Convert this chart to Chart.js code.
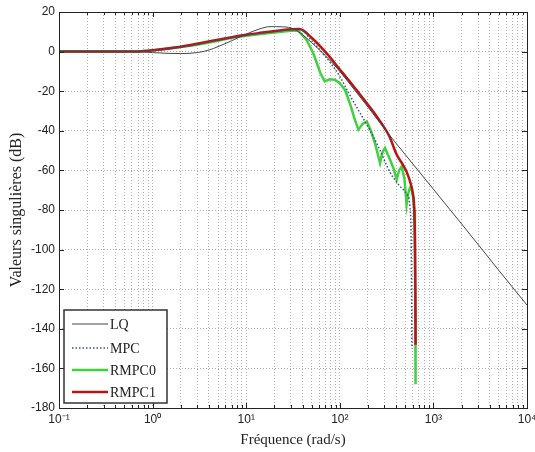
<!DOCTYPE html>
<html>
<head>
<meta charset="utf-8">
<script src="https://cdn.jsdelivr.net/npm/chart.js@4.4.1/dist/chart.umd.min.js"></script>
<style>
  html, body { margin: 0; padding: 0; background: #fff; }
  #wrap { width: 535px; height: 452px; position: relative; overflow: hidden; }
</style>
</head>
<body>
<div id="wrap"><canvas id="mainChart"></canvas></div>
<script>
// frequency axis (rad/s) decades and their labels
const xDecades = [0.1, 1, 10, 100, 1000, 10000];
const xDecadeLabels = ['10\u207B\u00B9', '10\u2070', '10\u00B9', '10\u00B2', '10\u00B3', '10\u2074'];

// LQ
const lqFreq = [0.1, 0.5, 0.8, 1, 1.5, 2, 3, 4, 5, 7, 10, 14, 18, 25, 32, 40, 50, 70, 100, 150, 200, 300, 500, 1000, 2000, 5000, 10000];
const lqGain = [0, 0, -0.2, -0.5, -0.9, -1, -0.5, 0.8, 2.5, 5.5, 8.8, 11.5, 12.6, 12.5, 11.5, 8.5, 4.5, -2, -10, -20.5, -28, -39, -52, -69.5, -87, -110.5, -128];

// MPC
const mpcFreq = [0.1, 0.5, 1, 2, 3, 5, 10, 20, 30, 38, 50, 70, 85, 100, 128, 160, 209, 270, 344, 430, 520, 560, 580, 590];
const mpcGain = [0, 0, 0.5, 2.3, 3.6, 5.8, 8.3, 10.2, 11, 11, 5.5, -2.5, -7.5, -12.5, -22, -30, -39.5, -50, -61, -67.5, -72, -78, -100, -150];

// RMPC0
const rmpc0Freq = [0.1, 0.5, 0.7, 1, 2, 3, 5, 7, 10, 15, 20, 30, 36, 44, 52, 62, 69, 78, 88, 100, 114, 130, 145, 158, 175, 194, 215, 240, 269, 285, 304, 340, 375, 405, 430, 458, 490, 517, 535, 560, 586, 605, 625, 635, 640, 645];
const rmpc0Gain = [0, 0, 0.1, 0.6, 2.3, 3.5, 5.5, 7, 8, 9, 9.7, 10.5, 10.5, 6, -0.7, -10.8, -15, -14, -14.2, -15.9, -19.5, -27, -34.5, -39.4, -36.5, -35.3, -40, -47, -56.3, -51, -48.7, -54, -59, -64.7, -60, -58, -64, -77.3, -72, -69, -70, -73, -80, -100, -130, -168];

// RMPC1
const rmpc1Freq = [0.1, 0.5, 0.7, 1, 2, 3, 5, 7, 10, 15, 20, 30, 37, 50, 72, 100, 140, 190, 250, 340, 405, 470, 520, 570, 605, 625, 635, 642, 645];
const rmpc1Gain = [0, 0, 0.1, 0.7, 2.5, 4, 6, 7.3, 8.5, 9.6, 10.4, 11.3, 11.4, 7, -0.8, -9, -17.5, -25.5, -33, -43, -52, -57, -61, -66.5, -72, -80, -95, -120, -148];

const toPoints = (fs, gs) => fs.map((f, i) => ({ x: f, y: gs[i] }));

// all minor/major grid positions on the log axis
const xGridValues = [];
xDecades.forEach((d, i) => {
    if (i === xDecades.length - 1) { xGridValues.push(d); return; }
    for (let k = 1; k <= 9; k++) xGridValues.push(parseFloat((k * d).toPrecision(3)));
});

function isDecade(v) {
    return xDecades.some(d => Math.abs(v - d) / d < 1e-6);
}

// frame, inward tick marks and the boxed legend
const framePlugin = {
    id: 'frame',
    afterDraw(chart) {
        const { ctx, chartArea: a, scales: { x, y } } = chart;
        ctx.save();
        ctx.strokeStyle = '#222';
        ctx.lineWidth = 1;
        ctx.setLineDash([]);
        ctx.beginPath();
        xGridValues.forEach(v => {
            const px = Math.round(x.getPixelForValue(v)) + 0.5;
            const len = isDecade(v) ? 5 : 3;
            ctx.moveTo(px, a.bottom); ctx.lineTo(px, a.bottom - len);
            ctx.moveTo(px, a.top); ctx.lineTo(px, a.top + len);
        });
        y.ticks.forEach(t => {
            const py = Math.round(y.getPixelForValue(t.value)) + 0.5;
            ctx.moveTo(a.left, py); ctx.lineTo(a.left + 5, py);
            ctx.moveTo(a.right, py); ctx.lineTo(a.right - 5, py);
        });
        ctx.stroke();
        ctx.strokeRect(Math.round(a.left) + 0.5, Math.round(a.top) + 0.5, Math.round(a.right - a.left), Math.round(a.bottom - a.top));

        // legend
        const bx = a.left + 5, by = a.bottom - 98, bw = 103, bh = 93;
        ctx.fillStyle = '#fff';
        ctx.fillRect(bx, by, bw, bh);
        ctx.strokeStyle = '#333';
        ctx.lineWidth = 1.5;
        ctx.strokeRect(bx, by, bw, bh);
        const rows = [14, 38, 60, 82];
        ctx.font = '14px "Liberation Serif"';
        ctx.textBaseline = 'middle';
        chart.data.datasets.forEach((ds, i) => {
            const ly = by + rows[i];
            ctx.save();
            ctx.strokeStyle = ds.borderColor;
            ctx.lineWidth = ds.borderWidth;
            ctx.setLineDash(ds.borderDash || []);
            ctx.beginPath();
            ctx.moveTo(bx + 8, ly);
            ctx.lineTo(bx + 44, ly);
            ctx.stroke();
            ctx.restore();
            ctx.fillStyle = '#222';
            ctx.fillText(ds.label, bx + 46, ly + 1);
        });
        ctx.restore();
    }
};

const ctx = document.getElementById('mainChart').getContext('2d');
new Chart(ctx, {
    type: 'line',
    data: {
        datasets: [
            {
                label: 'LQ',
                data: toPoints(lqFreq, lqGain),
                borderColor: '#454545',
                borderWidth: 1,
                pointRadius: 0,
                cubicInterpolationMode: 'monotone',
                order: 0
            },
            {
                label: 'MPC',
                data: toPoints(mpcFreq, mpcGain),
                borderColor: '#3c4f86',
                borderWidth: 1.5,
                borderDash: [1.5, 2],
                pointRadius: 0,
                cubicInterpolationMode: 'monotone',
                order: 1
            },
            {
                label: 'RMPC0',
                data: toPoints(rmpc0Freq, rmpc0Gain),
                borderColor: '#3fd13f',
                borderWidth: 2.5,
                pointRadius: 0,
                tension: 0,
                order: 3
            },
            {
                label: 'RMPC1',
                data: toPoints(rmpc1Freq, rmpc1Gain),
                borderColor: '#b81414',
                borderWidth: 2.5,
                pointRadius: 0,
                cubicInterpolationMode: 'monotone',
                order: 2
            }
        ]
    },
    options: {
        responsive: true,
        maintainAspectRatio: false,
        animation: false,
        layout: { padding: { top: 12, right: 8, left: 0, bottom: 0 } },
        plugins: {
            legend: { display: false },
            tooltip: { enabled: false }
        },
        scales: {
            x: {
                type: 'logarithmic',
                min: 0.1,
                max: 10000,
                afterBuildTicks: scale => { scale.ticks = xGridValues.map(v => ({ value: v })); },
                afterFit: scale => {
                    scale.height = 44;
                    // let the last label run off the edge like the original
                    scale.paddingRight = 0;
                    scale.paddingLeft = 0;
                },
                ticks: {
                    autoSkip: false,
                    maxRotation: 0,
                    padding: 4,
                    color: '#222',
                    font: { family: 'Liberation Sans', size: 12 },
                    callback: value => {
                        const i = xDecades.findIndex(d => Math.abs(value - d) / d < 1e-6);
                        return i >= 0 ? xDecadeLabels[i] : '';
                    }
                },
                grid: { color: '#b0b0b0', lineWidth: 1, drawTicks: false, borderDash: [1, 2] },
                border: { display: false, dash: [1, 2] },
                title: {
                    display: true,
                    text: 'Fréquence (rad/s)',
                    color: '#222',
                    font: { family: 'Liberation Serif', size: 15 },
                    padding: { top: 0, bottom: 3 }
                }
            },
            y: {
                min: -180,
                max: 20,
                afterFit: scale => { scale.width = 59; },
                ticks: {
                    stepSize: 20,
                    padding: 4,
                    color: '#222',
                    font: { family: 'Liberation Sans', size: 12 }
                },
                grid: { color: '#b0b0b0', lineWidth: 1, drawTicks: false, borderDash: [1, 2] },
                border: { display: false, dash: [1, 2] },
                title: {
                    display: true,
                    text: 'Valeurs singulières (dB)',
                    color: '#222',
                    font: { family: 'Liberation Serif', size: 16 },
                    padding: { top: 7, bottom: 0 }
                }
            }
        }
    },
    plugins: [framePlugin]
});
</script>
</body>
</html>
